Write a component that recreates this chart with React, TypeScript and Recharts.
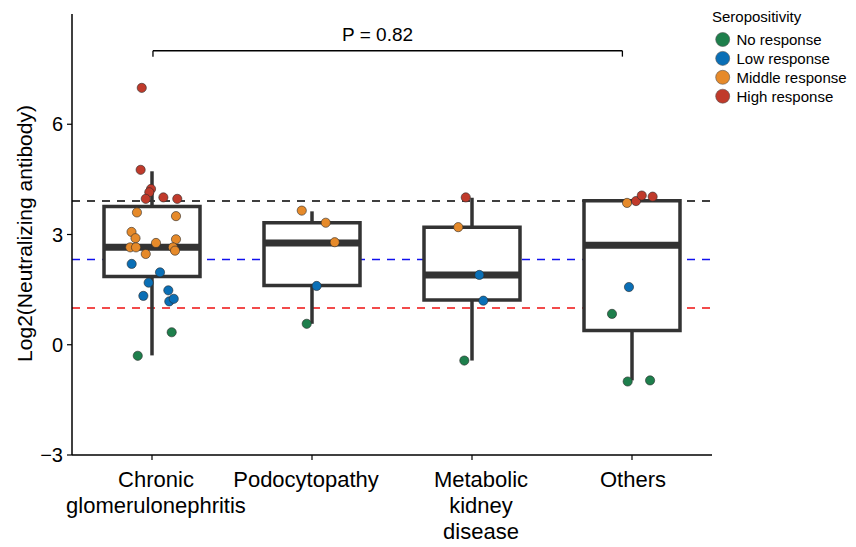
import React from 'react';
import {
  ComposedChart,
  Scatter,
  XAxis,
  YAxis,
  ReferenceArea,
  ReferenceLine,
  ReferenceDot,
} from 'recharts';

const FONT = "'Liberation Sans', Arial, Helvetica, sans-serif";

const categories = [
  ['Chronic', 'glomerulonephritis'],
  ['Podocytopathy'],
  ['Metabolic', 'kidney', 'disease'],
  ['Others'],
];

// box statistics per category
const whiskerLow = [-0.29, 0.57, -0.43, -0.97];
const q1 = [1.86, 1.61, 1.22, 0.39];
const median = [2.65, 2.77, 1.9, 2.71];
const q3 = [3.76, 3.32, 3.2, 3.92];
const whiskerHigh = [4.72, 3.63, 4.0, 3.95];

// [category index, log2 titre, horizontal jitter]
const noResponse: [number, number, number][] = [
  [0, 0.34, 0.123], [0, -0.3, -0.089],
  [1, 0.57, -0.033],
  [2, -0.43, -0.048],
  [3, 0.84, -0.125], [3, -1.0, -0.027], [3, -0.97, 0.113],
];
const lowResponse: [number, number, number][] = [
  [0, 2.2, -0.127], [0, 1.97, 0.05], [0, 1.69, -0.021], [0, 1.33, -0.054],
  [0, 1.48, 0.102], [0, 1.18, 0.108], [0, 1.25, 0.136],
  [1, 1.6, 0.029],
  [2, 1.9, 0.046], [2, 1.2, 0.071],
  [3, 1.57, -0.019],
];
const middleResponse: [number, number, number][] = [
  [0, 3.6, -0.094], [0, 3.5, 0.15], [0, 3.07, -0.128], [0, 2.9, -0.103],
  [0, 2.77, 0.025], [0, 2.87, 0.15], [0, 2.65, -0.136], [0, 2.65, -0.1],
  [0, 2.47, -0.039], [0, 2.65, 0.131], [0, 2.56, 0.144],
  [1, 3.65, -0.064], [1, 3.32, 0.086], [1, 2.79, 0.142],
  [2, 3.2, -0.086],
  [3, 3.86, -0.031],
];
const highResponse: [number, number, number][] = [
  [0, 6.99, -0.064], [0, 4.76, -0.071], [0, 4.24, -0.006], [0, 4.15, -0.017],
  [0, 3.97, -0.039], [0, 4.01, 0.071], [0, 3.97, 0.158],
  [2, 4.01, -0.039],
  [3, 3.91, 0.025], [3, 4.06, 0.061], [3, 4.03, 0.129],
];

const cutoffValues = [3.91, 2.32, 1];
const cutoffColors = ['#000000', '#1010ee', '#ee1111'];

const yTicks = [-3, 0, 3, 6];

const groups = [
  { name: 'No response', color: '#1e7f4c', rows: noResponse },
  { name: 'Low response', color: '#0a6fb6', rows: lowResponse },
  { name: 'Middle response', color: '#e68a2a', rows: middleResponse },
  { name: 'High response', color: '#c03a2b', rows: highResponse },
];

const BOX = '#333333';
const HALF = 0.3;
const LABEL_NUDGE = [4, -6, 9, 1];

const toPoints = (rows: [number, number, number][]) =>
  rows.map(([c, v, j]) => ({ x: c + 1 + j, y: v }));

const CategoryTick = (props: any) => {
  const { x, y, payload } = props;
  const idx = Math.round(payload.value) - 1;
  const lines = categories[idx] || [];
  return (
    <text
      x={x + LABEL_NUDGE[idx]}
      y={y}
      textAnchor="middle"
      fontSize={22}
      fill="#000"
      fontFamily={FONT}
    >
      {lines.map((l, i) => (
        <tspan key={l} x={x + LABEL_NUDGE[idx]} dy={i === 0 ? 27 : 26}>
          {l}
        </tspan>
      ))}
    </text>
  );
};

const Dot = (color: string) => (props: any) => (
  <circle
    cx={props.cx}
    cy={props.cy}
    r={4.6}
    fill={color}
    stroke="#2a2a2a"
    strokeWidth={0.6}
  />
);

export default function App() {
  return (
    <div
      style={{
        position: 'absolute',
        left: 0,
        top: 0,
        width: 856,
        height: 547,
        background: '#fff',
        fontFamily: FONT,
      }}
    >
      <ComposedChart
        width={856}
        height={547}
        margin={{ top: 14, right: 144, bottom: 0, left: 0 }}
      >
        <XAxis
          type="number"
          dataKey="x"
          domain={[0.5, 4.5]}
          ticks={[1, 2, 3, 4]}
          interval={0}
          allowDataOverflow
          tick={<CategoryTick />}
          tickSize={5}
          tickMargin={0}
          axisLine={{ stroke: '#000', strokeWidth: 1.5 }}
          tickLine={{ stroke: '#000', strokeWidth: 1.2 }}
          height={92}
        />
        <YAxis
          type="number"
          dataKey="y"
          domain={[-3, 9]}
          ticks={yTicks}
          allowDataOverflow
          width={72}
          tickSize={5}
          tickMargin={4}
          tick={{ fill: '#000', fontSize: 20, fontFamily: FONT }}
          tickFormatter={(v: number) => (v < 0 ? '\u2212' + Math.abs(v) : String(v))}
          axisLine={{ stroke: '#000', strokeWidth: 1.5 }}
          tickLine={{ stroke: '#000', strokeWidth: 1.2 }}
          label={{
            content: (p: any) => {
              const vb = p.viewBox;
              const cx = vb.x + 24;
              const cy = vb.y + vb.height / 2 - 1;
              return (
                <text
                  x={cx}
                  y={cy}
                  transform={`rotate(-90, ${cx}, ${cy})`}
                  textAnchor="middle"
                  dominantBaseline="central"
                  fontSize={21}
                  fill="#000"
                  fontFamily={FONT}
                >
                  Log2(Neutralizing antibody)
                </text>
              );
            },
          }}
        />

        {/* seropositivity cut-offs, behind the boxes */}
        {cutoffValues.map((v, i) => (
          <ReferenceLine
            key={`cut-${i}`}
            y={v}
            stroke={cutoffColors[i]}
            strokeWidth={1.6}
            strokeDasharray="8 7"
            zIndex={50}
          />
        ))}

        {/* whiskers */}
        {categories.map((_, i) => (
          <ReferenceLine
            key={`wl-${i}`}
            segment={[{ x: i + 1, y: whiskerLow[i] }, { x: i + 1, y: q1[i] }]}
            stroke={BOX}
            strokeWidth={3.5}
            zIndex={60}
          />
        ))}
        {categories.map((_, i) => (
          <ReferenceLine
            key={`wh-${i}`}
            segment={[{ x: i + 1, y: q3[i] }, { x: i + 1, y: whiskerHigh[i] }]}
            stroke={BOX}
            strokeWidth={3.5}
            zIndex={60}
          />
        ))}
        {/* boxes */}
        {categories.map((_, i) => (
          <ReferenceArea
            key={`box-${i}`}
            x1={i + 1 - HALF}
            x2={i + 1 + HALF}
            y1={q1[i]}
            y2={q3[i]}
            fill="#ffffff"
            fillOpacity={1}
            stroke={BOX}
            strokeWidth={3.5}
            zIndex={70}
          />
        ))}
        {/* medians */}
        {categories.map((_, i) => (
          <ReferenceLine
            key={`med-${i}`}
            segment={[
              { x: i + 1 - HALF, y: median[i] },
              { x: i + 1 + HALF, y: median[i] },
            ]}
            stroke={BOX}
            strokeWidth={7}
            zIndex={80}
          />
        ))}

        {/* significance bracket */}
        <ReferenceLine
          segment={[{ x: 1.006, y: 8.0 }, { x: 3.94, y: 8.0 }]}
          stroke="#000"
          strokeWidth={1.3}
        />
        <ReferenceLine
          segment={[{ x: 1.006, y: 8.0 }, { x: 1.006, y: 7.84 }]}
          stroke="#000"
          strokeWidth={1.3}
        />
        <ReferenceLine
          segment={[{ x: 3.94, y: 8.0 }, { x: 3.94, y: 7.84 }]}
          stroke="#000"
          strokeWidth={1.3}
        />
        <ReferenceDot
          x={2.41}
          y={8.0}
          r={0}
          fill="none"
          stroke="none"
          label={{
            content: (p: any) => {
              const vb = p.viewBox || {};
              const cx = vb.cx ?? vb.x + (vb.width || 0) / 2;
              const cy = vb.cy ?? vb.y + (vb.height || 0) / 2;
              return (
                <text
                  x={cx}
                  y={cy - 10}
                  textAnchor="middle"
                  fontSize={19}
                  fill="#000"
                  fontFamily={FONT}
                >
                  P = 0.82
                </text>
              );
            },
          }}
        />

        {groups.map((g) => (
          <Scatter
            key={g.name}
            name={g.name}
            data={toPoints(g.rows)}
            shape={Dot(g.color)}
            isAnimationActive={false}
          />
        ))}
      </ComposedChart>

      <svg
        width={150}
        height={110}
        style={{ position: 'absolute', left: 706, top: 0 }}
      >
        <text x={6} y={22} fontSize={15} fill="#000" fontFamily={FONT}>
          Seropositivity
        </text>
        {groups.map((g, i) => (
          <g key={g.name}>
            <circle
              cx={16.7}
              cy={39.5 + i * 18.9}
              r={7}
              fill={g.color}
              stroke="#555"
              strokeWidth={0.6}
            />
            <text
              x={30.5}
              y={39.5 + i * 18.9 + 5.5}
              fontSize={15}
              fill="#000"
              fontFamily={FONT}
            >
              {g.name}
            </text>
          </g>
        ))}
      </svg>
    </div>
  );
}
